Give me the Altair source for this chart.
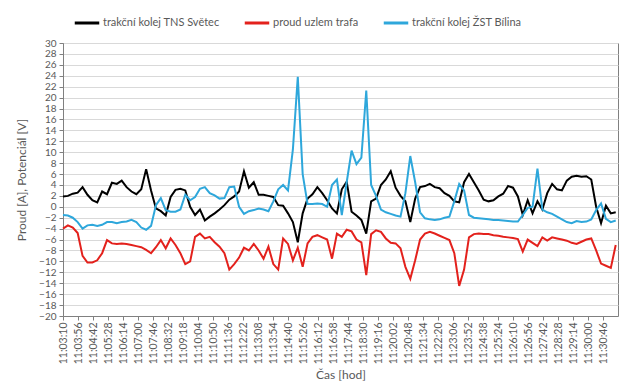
import altair as alt
import pandas as pd

# sample times: seconds after 11:03:10, one reading every 15 s
STEP = 15
black_tns = [1.9, 2.0, 2.4, 2.6, 3.6, 2.2, 1.2, 0.8, 2.8, 2.3,
             4.4, 4.2, 4.8, 3.6, 2.8, 2.3, 3.2, 6.9, 3.0, -0.3,
             -0.8, -1.6, 1.8, 3.1, 3.3, 3.0, 0.0, -1.5, -0.5, -2.5,
             -1.8, -1.2, -0.5, 0.3, 1.3, 1.9, 2.8, 6.5, 3.5, 4.5,
             2.2, 2.2, 2.0, 1.8, 0.3, 0.2, -1.2, -2.8, -6.5, -1.2,
             1.5, 2.3, 3.6, 2.5, 1.2, -0.3, -1.2, 3.2, 4.6, -0.9,
             -1.6, -2.4, -4.9, 1.0, 1.5, 4.0, 5.0, 6.5, 3.5, 2.0,
             1.0, -2.8, 1.5, 3.6, 3.8, 4.2, 3.6, 3.4, 2.5, 2.0,
             1.0, 0.8, 4.5, 6.0, 4.5, 3.0, 1.3, 1.0, 1.2, 1.9,
             2.4, 3.8, 3.5, 1.9, -1.5, 1.2, -1.2, 1.0, -0.5, 2.5,
             4.2, 3.2, 3.0, 4.8, 5.5, 5.7, 5.5, 5.6, 5.0, 0.0,
             -3.0, 0.2, -1.2, -1.0]
red_trafo = [-4.0, -3.4, -3.8, -4.8, -9.0, -10.2, -10.2, -9.8, -8.5, -6.1,
             -6.7, -6.8, -6.7, -6.8, -7.0, -7.2, -7.4, -7.9, -8.5, -7.4,
             -6.1, -7.6, -5.8, -7.0, -8.5, -10.5, -10.0, -5.5, -4.9, -5.8,
             -5.5, -6.5, -7.3, -8.5, -11.5, -10.5, -9.3, -7.5, -8.0, -6.8,
             -8.0, -9.5, -7.3, -10.5, -11.5, -5.8, -6.8, -9.8, -7.5, -11.0,
             -6.7, -5.5, -5.2, -5.6, -6.0, -9.5, -4.9, -5.5, -4.2, -4.5,
             -6.0, -6.5, -12.5, -5.0, -4.3, -4.6, -5.8, -6.6, -6.7, -7.6,
             -11.0, -13.2, -9.8, -6.0, -4.9, -4.6, -4.9, -5.3, -5.7, -6.1,
             -8.5, -14.5, -11.5, -5.6, -5.0, -4.9, -5.0, -5.0, -5.2, -5.3,
             -5.5, -5.6, -5.7, -5.9, -8.2, -6.0, -6.6, -7.2, -5.6, -6.2,
             -5.6, -5.8, -6.0, -6.2, -6.6, -6.8, -6.4, -6.0, -5.8, -8.0,
             -10.4, -10.8, -11.2, -7.0]
blue_zst = [-1.5, -1.6, -2.0, -2.8, -4.0, -3.4, -3.3, -3.5, -3.3, -2.8,
            -2.8, -3.0, -2.8, -2.7, -2.4, -2.8, -3.8, -4.2, -3.5, 0.3,
            1.6, -0.6, -0.9, -0.9, -0.5, 2.2, 1.2, 1.8, 3.3, 3.6,
            2.5, 2.1, 1.5, 1.6, 3.6, 3.7, 0.0, -1.3, -0.8, -0.6,
            -0.3, -0.5, -0.8, 1.0, 3.2, 4.0, 3.0, 10.5, 23.8, 6.0,
            0.5, 0.5, 0.6, 0.5, 0.0, 4.0, 5.0, -1.5, 4.5, 10.3,
            7.8, 9.0, 21.3, 4.0, 2.0, -0.5, -1.0, -1.3, -1.6, -1.8,
            2.5, 9.3, 4.5, -1.0, -2.1, -2.3, -2.4, -2.3, -2.0, -1.8,
            1.0, 4.2, 3.0, -1.5, -2.0, -2.1, -2.2, -2.3, -2.4, -2.4,
            -2.5, -2.6, -2.7, -2.7, -1.5, -0.2, 0.0, 7.0, -0.5, -1.0,
            -1.3, -1.8, -2.3, -2.8, -3.0, -2.6, -2.8, -2.7, -2.3, -0.6,
            0.6, -2.2, -2.8, -2.5]

series_names = ["trakční kolej TNS Světec", "proud uzlem trafa", "trakční kolej ŽST Bílina"]
series_colors = ["#000000", "#e3211c", "#2ea7db"]

tick_labels = ["11:03:10", "11:03:56", "11:04:42", "11:05:28", "11:06:14", "11:07:00",
               "11:07:46", "11:08:32", "11:09:18", "11:10:04", "11:10:50", "11:11:36",
               "11:12:22", "11:13:08", "11:13:54", "11:14:40", "11:15:26", "11:16:12",
               "11:16:58", "11:17:44", "11:18:30", "11:19:16", "11:20:02", "11:20:48",
               "11:21:34", "11:22:20", "11:23:06", "11:23:52", "11:24:38", "11:25:24",
               "11:26:10", "11:26:56", "11:27:42", "11:28:28", "11:29:14", "11:30:00",
               "11:30:46"]


def secs(s):
    h, m, c = (int(v) for v in s.split(":"))
    return h * 3600 + m * 60 + c


t0 = secs(tick_labels[0])
tick_values = [secs(s) - t0 for s in tick_labels]

rows = []
for name, vals in zip(series_names, [black_tns, red_trafo, blue_zst]):
    for i, v in enumerate(vals):
        rows.append({"t": i * STEP, "v": v, "s": name})
df = pd.DataFrame(rows)

font = "Lato"
gray = "#595959"

chart = alt.Chart(df).mark_line(strokeWidth=2).encode(
    x=alt.X("t:Q",
            scale=alt.Scale(domain=[0, 1702], nice=False, zero=False),
            axis=alt.Axis(values=tick_values,
                          labelExpr="timeFormat(datetime(2000,0,1,11,3,10+datum.value),'%H:%M:%S')",
                          labelAngle=-90, labelFontSize=10.5, labelColor=gray,
                          labelFont=font, grid=False, domainColor="#808080",
                          tickColor="#808080", tickSize=4, labelPadding=2,
                          title="Čas [hod]", titleFont=font, titleFontSize=12,
                          titleFontWeight="normal", titleColor=gray, titlePadding=6,
                          labelOverlap=False)),
    y=alt.Y("v:Q",
            scale=alt.Scale(domain=[-20, 30], nice=False),
            axis=alt.Axis(values=list(range(-20, 31, 2)), labelFontSize=10,
                          labelColor=gray, labelFont=font, gridColor="#d9d9d9",
                          domainColor="#808080", tickColor="#808080", tickSize=4,
                          labelPadding=3, title="Proud [A], Potenciál [V]",
                          titleFont=font, titleFontSize=12, titleFontWeight="normal",
                          titleColor=gray, titlePadding=10, labelOverlap=False)),
    color=alt.Color("s:N",
                    scale=alt.Scale(domain=series_names, range=series_colors),
                    legend=alt.Legend(title=None, orient="none", direction="horizontal",
                                      legendX=10, legendY=-34, symbolType="stroke",
                                      symbolSize=600, symbolStrokeWidth=3,
                                      labelFont=font, labelFontSize=11,
                                      labelColor=gray, columnPadding=18,
                                      labelOffset=2)),
    order=alt.Order("t:Q"),
).properties(
    width=555, height=273,
    autosize=alt.AutoSizeParams(type="none"),
    padding={"left": 55, "top": 35, "right": 2, "bottom": 67},
).configure_view(stroke="#808080", strokeWidth=1)

chart.save("out.html", embed_options={"renderer": "svg", "actions": False})
